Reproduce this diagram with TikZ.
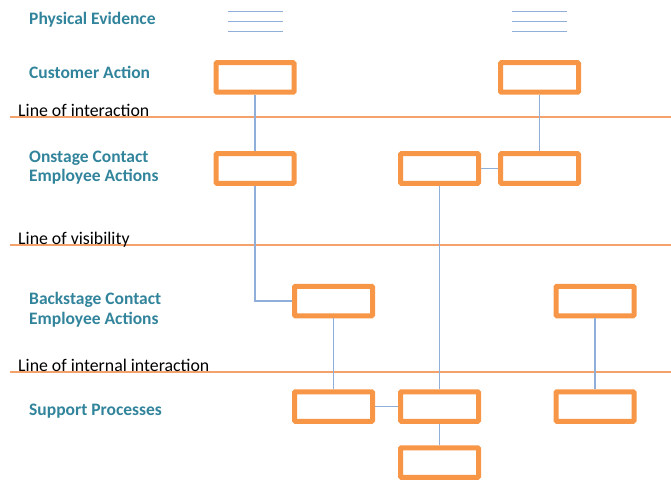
\documentclass[tikz,border=0pt]{standalone}
\usepackage{fontspec}
\setmainfont{Carlito}
\definecolor{lanetext}{HTML}{31849B}
\definecolor{boxorange}{HTML}{F79646}
\definecolor{lineorange}{HTML}{F2A26A}
\definecolor{linkblue}{HTML}{8FAFD8}
\tikzset{
  actbox/.style={draw=boxorange, line width=5pt, rounded corners=1pt, minimum width=78pt, minimum height=29.5pt, inner sep=0pt, fill=white},
  lanelabel/.style={anchor=west, inner sep=0pt, align=left, text=lanetext, font=\fontsize{17.5}{19.5}\selectfont\bfseries},
  linelabel/.style={anchor=base west, inner sep=0pt, font=\fontsize{17.8}{19}\selectfont},
  boundary/.style={draw=lineorange, line width=2pt},
  link/.style={draw=linkblue, line width=1.2pt},
  evidence/.style={draw=linkblue, line width=1.6pt}
}
\begin{document}
\begin{tikzpicture}[x=1pt, y=-1pt]
\useasboundingbox (0,0) rectangle (671,481);

% lane labels
\node[lanelabel] (lpe) at (29,20) {Physical Evidence};
\node[lanelabel] (lca) at (29,72) {Customer Action};
\node[lanelabel] (lon) at (29,167.5) {Onstage Contact\\Employee Actions};
\node[lanelabel] (lbk) at (29,309.5) {Backstage Contact\\Employee Actions};
\node[lanelabel] (lsp) at (29,411) {Support Processes};

% boundary lines
\coordinate (i0) at (10,117);  \coordinate (i1) at (671,117);
\coordinate (v0) at (10,245);  \coordinate (v1) at (671,245);
\coordinate (n0) at (10,371.5);\coordinate (n1) at (671,371.5);
\draw[boundary] (i0) -- (i1);
\draw[boundary] (v0) -- (v1);
\draw[boundary] (n0) -- (n1);
\node[linelabel] (tli) at (18,116.5) {Line of interaction};
\node[linelabel] (tlv) at (18,244.5) {Line of visibility};
\node[linelabel] (tln) at (18,371) {Line of internal interaction};

% physical evidence marks
\foreach \xa/\xb/\k in {228/283/a, 512/567/b}{
  \foreach \yy/\j in {11.5/1, 21.5/2, 31.5/3}{
    \coordinate (pe\k\j s) at (\xa,\yy);
    \coordinate (pe\k\j e) at (\xb,\yy);
    \draw[evidence] (pe\k\j s) -- (pe\k\j e);
  }
}

% action boxes
\node[actbox] (ca1) at (255,77.5) {};
\node[actbox] (ca2) at (539.5,77.5) {};
\node[actbox] (on1) at (255,168.5) {};
\node[actbox] (on2) at (439.5,168.5) {};
\node[actbox] (on3) at (539.5,168.5) {};
\node[actbox] (bk1) at (333.5,301) {};
\node[actbox] (bk2) at (595,301) {};
\node[actbox] (sp1) at (333.5,406.5) {};
\node[actbox] (sp2) at (439.5,406.5) {};
\node[actbox] (sp3) at (595,406.5) {};
\node[actbox] (sp4) at (439.5,462.5) {};

% connectors
\draw[link] (ca1.south) -- (on1.north);
\draw[link] (on1.south) |- (bk1.west);
\draw[link] (bk1.south) -- (sp1.north);
\draw[link] (on2.south) -- (sp2.north);
\draw[link] (on2.east) -- (on3.west);
\draw[link] (ca2.south) -- (on3.north);
\draw[link] (bk2.south) -- (sp3.north);
\draw[link] (sp1.east) -- (sp2.west);
\draw[link] (sp2.south) -- (sp4.north);
\end{tikzpicture}
\end{document}
